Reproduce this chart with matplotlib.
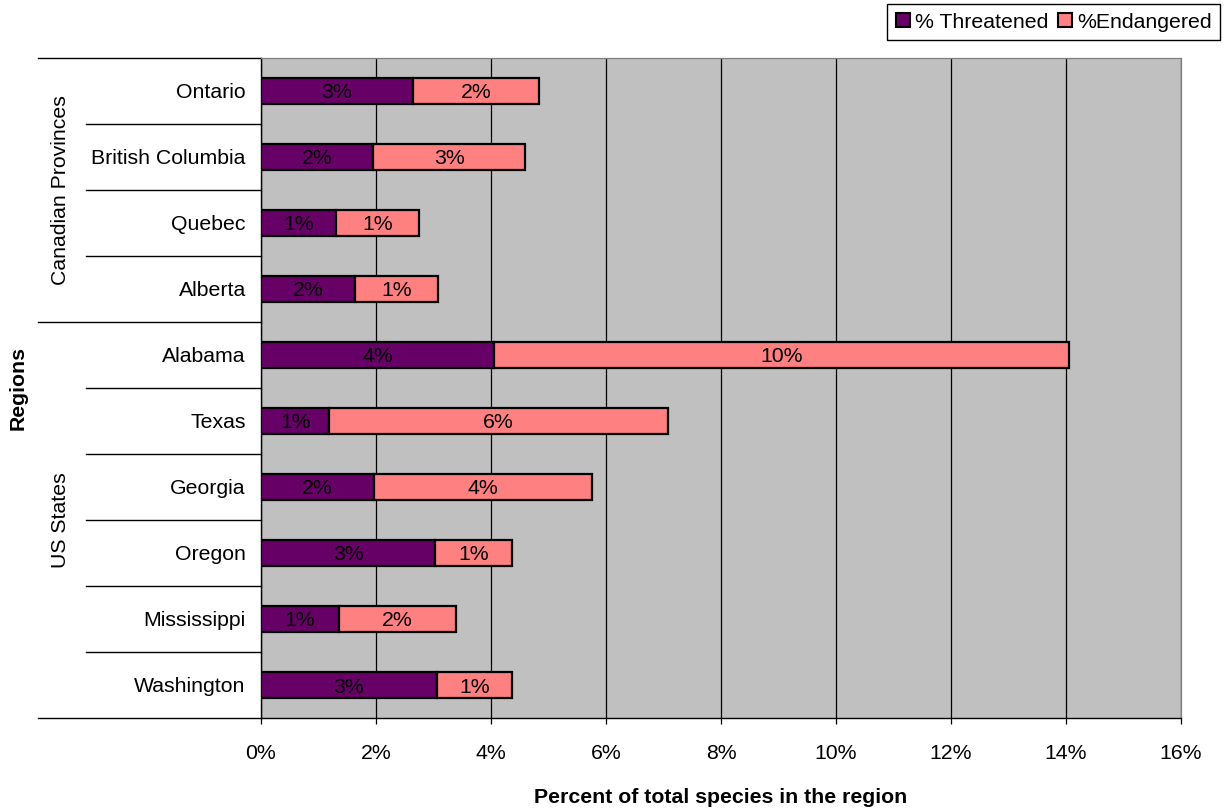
"""Stacked bars of threatened and endangered species share by region."""

import matplotlib.pyplot as plt
import matplotlib.transforms as mtransforms
from matplotlib.lines import Line2D
from matplotlib.patches import Patch
from matplotlib.ticker import FuncFormatter

plt.rcParams["font.family"] = ["Liberation Sans", "DejaVu Sans"]

regions = [
    "Ontario", "British Columbia", "Quebec", "Alberta",
    "Alabama", "Texas", "Georgia", "Oregon", "Mississippi", "Washington",
]
groups = ["Canadian Provinces", "US States"]
group_sizes = [4, 6]

threatened = [2.64, 1.95, 1.31, 1.64, 4.05, 1.19, 1.97, 3.03, 1.36, 3.06]
endangered = [2.20, 2.64, 1.43, 1.43, 10.00, 5.88, 3.78, 1.33, 2.03, 1.31]

x_ticks = [0, 2, 4, 6, 8, 10, 12, 14, 16]

THREAT_COLOR = "#660066"
ENDANGER_COLOR = "#FF8080"
FS = 15.3


def main():
    fig = plt.figure(figsize=(12.28, 8.10), dpi=100)
    ax = fig.add_axes([261 / 1228, 92 / 810, 920 / 1228, 660 / 810])
    ax.set_facecolor("#C0C0C0")

    y = list(range(len(regions)))
    bars_t = ax.barh(y, threatened, height=0.4, color=THREAT_COLOR,
                     edgecolor="black", linewidth=1.6, zorder=3)
    bars_e = ax.barh(y, endangered, left=threatened, height=0.4,
                     color=ENDANGER_COLOR, edgecolor="black", linewidth=1.6,
                     zorder=3)
    for bars, vals in ((bars_t, threatened), (bars_e, endangered)):
        labels = ax.bar_label(bars, labels=[f"{v:.0f}%" for v in vals],
                              label_type="center", fontsize=FS,
                              color="black", zorder=4)
        for t in labels:
            t.set_va("center_baseline")

    ax.set_xlim(0, 16)
    ax.set_ylim(len(regions) - 0.5, -0.5)
    ax.set_xticks(x_ticks)
    ax.xaxis.set_major_formatter(FuncFormatter(lambda v, _: f"{v:.0f}%"))
    ax.grid(axis="x", color="black", linewidth=0.9, zorder=1)
    ax.set_axisbelow(True)

    ax.set_yticks(y)
    ax.set_yticklabels(regions, fontsize=FS)
    ax.tick_params(axis="y", length=0, pad=11)
    ax.tick_params(axis="x", labelsize=FS, length=4.5, width=0.9,
                   direction="out", pad=14)

    for side in ("top", "right"):
        ax.spines[side].set_color("#808080")
        ax.spines[side].set_linewidth(0.9)
    for side in ("left", "bottom"):
        ax.spines[side].set_color("black")
        ax.spines[side].set_linewidth(1.0)

    ax.set_xlabel("Percent of total species in the region", fontsize=FS,
                  fontweight="bold", labelpad=18)

    # category separators and group brackets to the left of the axis
    trans = mtransforms.blended_transform_factory(ax.transAxes, ax.transData)
    x_group = (38 - 261) / 920
    x_cat = (86 - 261) / 920
    start = 0
    bounds = [-0.5]
    for size in group_sizes:
        start += size
        bounds.append(start - 0.5)
    for b in bounds:
        ax.add_line(Line2D([x_group, 0], [b, b], transform=trans,
                           color="black", linewidth=1.0, clip_on=False))
    for i in range(len(regions) - 1):
        b = i + 0.5
        if b in bounds:
            continue
        ax.add_line(Line2D([x_cat, 0], [b, b], transform=trans,
                           color="black", linewidth=1.0, clip_on=False))

    x_group_label = (60 - 261) / 920
    for name, lo, hi in zip(groups, bounds[:-1], bounds[1:]):
        ax.text(x_group_label, (lo + hi) / 2, name, transform=trans,
                rotation=90, ha="center", va="center", fontsize=FS)

    fig.text(18 / 1228, 1 - 388 / 810, "Regions", rotation=90, ha="center",
             va="center", fontsize=FS, fontweight="bold")

    handles = [
        Patch(facecolor=THREAT_COLOR, edgecolor="black", linewidth=1.5),
        Patch(facecolor=ENDANGER_COLOR, edgecolor="black", linewidth=1.5),
    ]
    leg = fig.legend(handles, ["% Threatened", "%Endangered"],
                     loc="upper right", bbox_to_anchor=(1220 / 1228, 1 - 4 / 810),
                     ncol=2, fontsize=FS, frameon=True, fancybox=False,
                     edgecolor="black", framealpha=1, handlelength=0.65,
                     handleheight=0.65, handletextpad=0.25, columnspacing=0.45,
                     borderpad=0.4, borderaxespad=0)
    leg.get_frame().set_linewidth(1.0)

    fig.savefig("out.png", dpi=100, facecolor="white")


if __name__ == "__main__":
    main()
